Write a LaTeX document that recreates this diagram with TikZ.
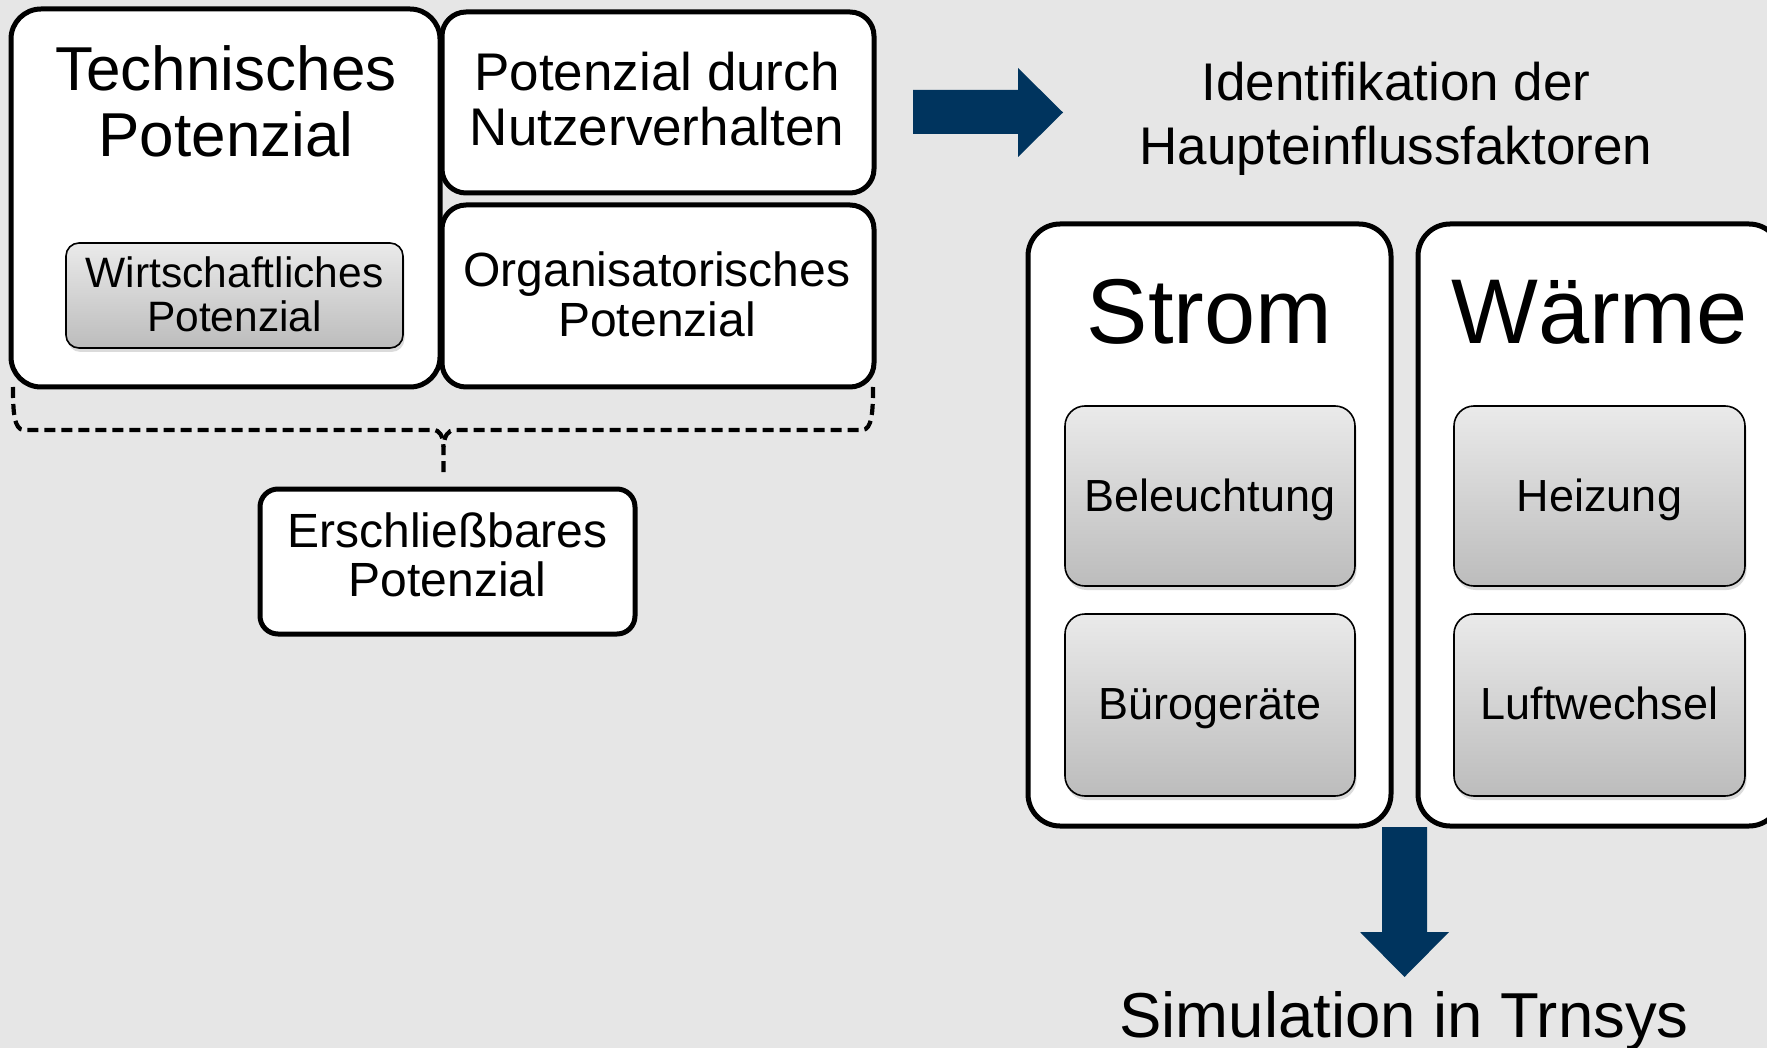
\documentclass[tikz,border=0pt]{standalone}
\usepackage{fontspec}
\setmainfont{Liberation Sans}
\usetikzlibrary{fit,shadows}
\definecolor{bg}{RGB}{230,230,230}
\definecolor{navy}{RGB}{0,52,94}
\definecolor{gtop}{RGB}{234,234,234}
\definecolor{gbot}{RGB}{188,188,188}
\begin{document}
\begin{tikzpicture}[x=1pt,y=-1pt,
  bigbox/.style={draw=black, line width=5pt, fill=white, rounded corners=#1, inner sep=0pt},
  bigbox/.default=30pt,
  gradbox/.style={draw=black, line width=1.6pt, rounded corners=#1, top color=gtop, bottom color=gbot, inner sep=0pt,
    drop shadow={opacity=0.28, shadow xshift=1.5pt, shadow yshift=-4pt}},
  gradbox/.default=16pt,
  txt/.style={inner sep=0pt, anchor=base, text=black},
  fA/.style={font=\fontsize{62}{70}\selectfont},
  fB/.style={font=\fontsize{53}{60}\selectfont},
  fC/.style={font=\fontsize{48}{55}\selectfont},
  fD/.style={font=\fontsize{42.5}{48}\selectfont},
  fE/.style={font=\fontsize{92}{100}\selectfont},
  fF/.style={font=\fontsize{45}{52}\selectfont},
  fG/.style={font=\fontsize{63.5}{70}\selectfont},
  bracket/.style={draw=black, line width=4.2pt, dash pattern=on 11pt off 6pt},
  blockarrow/.style={fill=navy}
]
\fill[bg] (0,0) rectangle (1767,1048);
\clip (0,0) rectangle (1767,1048);

% left group
\node[bigbox=30pt, fit={(11,9) (440,387)}] (tech) {};
\node[bigbox=24pt, fit={(442,12) (874,193)}] (nutz) {};
\node[bigbox=24pt, fit={(442,205) (874,387)}] (orga) {};
\node[gradbox=13pt, fit={(66,243) (403,348)}] (wirt) {};
\node[bigbox=18pt, fit={(260,489) (635,634)}] (ersch) {};

\node[txt, fA] (techA) at (226,91) {Technisches};
\node[txt, fA] (techB) at (226,157) {Potenzial};
\node[txt, fB] (nutzA) at (657,91) {Potenzial durch};
\node[txt, fB] (nutzB) at (657,146) {Nutzerverhalten};
\node[txt, fC] (orgaA) at (657,287) {Organisatorisches};
\node[txt, fC] (orgaB) at (657,337) {Potenzial};
\node[txt, fD] (wirtA) at (234.5,288) {Wirtschaftliches};
\node[txt, fD] (wirtB) at (234.5,332) {Potenzial};
\node[txt, fC] (erschA) at (447.5,547) {Erschließbares};
\node[txt, fC] (erschB) at (447.5,596) {Potenzial};

% dashed brace
\coordinate (brL) at (13,387);
\coordinate (brR) at (873,387);
\coordinate (brTip) at (443.5,477);
\draw[bracket] (brL) .. controls (13,412) and (14,430) .. (24,430) -- (433,430)
  .. controls (440,430) and (443,436) .. (443.5,447) -- (brTip);
\draw[bracket] (brR) .. controls (873,412) and (872,430) .. (862,430) -- (455,430)
  .. controls (448,430) and (444,436) .. (443.5,447);

% right arrow
\fill[blockarrow] (913,90) -- (1018,90) -- (1018,68) -- (1063,112.5) -- (1018,157) -- (1018,134) -- (913,134) -- cycle;

% heading
\node[txt, fB] (identA) at (1396,101) {Identifikation der};
\node[txt, fB] (identB) at (1396,165) {Haupteinflussfaktoren};

% right group
\node[bigbox=32pt, fit={(1028,224) (1391,826)}] (strom) {};
\node[bigbox=32pt, fit={(1418,224) (1781,826)}] (waerme) {};
\node[txt, fE] (stromT) at (1209.5,344) {Strom};
\node[txt, fE] (waermeT) at (1599.5,344) {Wärme};

\node[gradbox=20pt, fit={(1065,406) (1355,586)}] (bel) {};
\node[gradbox=20pt, fit={(1065,614) (1355,796)}] (buero) {};
\node[gradbox=20pt, fit={(1454,406) (1745,586)}] (heiz) {};
\node[gradbox=20pt, fit={(1454,614) (1745,796)}] (luft) {};
\node[txt, fF] (belT) at (1210,511) {Beleuchtung};
\node[txt, fF] (bueroT) at (1210,719) {Bürogeräte};
\node[txt, fF] (heizT) at (1599.5,511) {Heizung};
\node[txt, fF] (luftT) at (1599.5,719) {Luftwechsel};

% down arrow
\fill[blockarrow] (1382,827) -- (1427,827) -- (1427,932) -- (1449,932) -- (1404.5,977) -- (1360,932) -- (1382,932) -- cycle;

\node[txt, fG] (sim) at (1404,1037) {Simulation in Trnsys};
\end{tikzpicture}
\end{document}
